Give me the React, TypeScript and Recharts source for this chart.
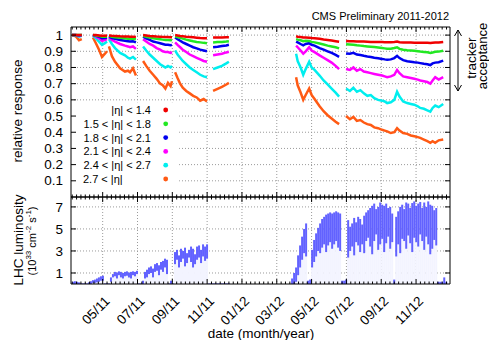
import React from 'react';
import { ComposedChart, Line, Bar, XAxis, YAxis, CartesianGrid, ReferenceArea } from 'recharts';

const FONT = '"Liberation Sans", Arial, Helvetica, sans-serif';

// x axis in months counted from Jan 2011 (4 = May 2011)
const X_DOMAIN: [number, number] = [2.18, 23.95];
const MAJOR_MONTHS = [4, 6, 8, 10, 12, 14, 16, 18, 20, 22];
const TICK_LABELS = ['05/11', '07/11', '09/11', '11/11', '01/12', '03/12', '05/12', '07/12', '09/12', '11/12'];

const RESP_TICKS = [0.1, 0.2, 0.3, 0.4, 0.5, 0.6, 0.7, 0.8, 0.9, 1];
const LUM_TICKS = [1, 3, 5, 7];

const LEGEND_LABELS = ['|η| < 1.4', '1.5 < |η| < 1.8', '1.8 < |η| < 2.1', '2.1 < |η| < 2.4', '2.4 < |η| < 2.7', '2.7 < |η|'];
const SERIES_KEYS = ['eta14', 'eta15', 'eta18', 'eta21', 'eta24', 'eta27'];
const SERIES_COLORS = ['#f00000', '#22e822', '#0000ee', '#ff00ff', '#00eeee', '#ff5a14'];

// sampling dates of the response curves (gap rows hold nulls)
const RESP_MONTHS = [
  2.24, 2.45, 2.64, 2.8, 3.1,
  3.44, 3.61, 3.79, 3.96, 4.13, 4.25, 4.3,
  4.36, 4.53, 4.71, 5.0, 5.28, 5.45, 5.57, 5.74, 5.91, 6.1,
  6.32, 6.5, 6.7, 6.9, 7.1, 7.3, 7.45, 7.6, 7.75, 7.9, 7.98, 8.07,
  8.16, 8.3, 8.45, 8.6, 8.8, 9.0, 9.2, 9.4, 9.6, 9.8, 9.99, 10.15,
  10.34, 10.6, 10.85, 11.1, 11.25, 13,
  15.11, 15.2, 15.37, 15.52, 15.66, 15.86, 16.0, 16.17, 16.46, 16.69, 16.92, 17.15, 17.38, 17.58, 17.8,
  17.98, 18.2, 18.4, 18.6, 18.8, 19.0, 19.2, 19.4, 19.6, 19.82, 20.05, 20.2, 20.34, 20.55, 20.75,
  20.91, 21.05, 21.26, 21.49, 21.7, 21.9, 22.1, 22.24, 22.45, 22.65, 22.82, 22.95, 23.1, 23.3, 23.56,
];

const ETA_14 = [
  1.0, 1.0, 1.0, 1.0, null,
  1.0, 1.0, 0.998, 0.996, 0.996, 0.997, null,
  0.998, 0.996, 0.995, 0.993, 0.992, 0.991, 0.99, 0.99, 0.989, null,
  1.0, 0.998, 0.995, 0.993, 0.991, 0.99, 0.989, 0.988, 0.988, 0.987, 0.987, null,
  1.0, 0.998, 0.995, 0.993, 0.99, 0.988, 0.986, 0.984, 0.982, 0.981, 0.98, null,
  0.985, 0.985, 0.985, 0.986, 0.986, null,
  0.993, 0.99, 0.988, 0.985, 0.985, 0.984, 0.982, 0.98, 0.977, 0.973, 0.97, 0.966, 0.962, 0.959, null,
  0.963, 0.962, 0.962, 0.961, 0.96, 0.96, 0.959, 0.958, 0.958, 0.957, 0.957, 0.956, 0.956, 0.956, 0.958,
  0.96, 0.956, 0.955, 0.954, 0.954, 0.953, 0.953, 0.952, 0.952, 0.952, 0.951, 0.953, 0.954, 0.955, 0.958,
];

const ETA_15 = [
  1.0, 1.0, 1.0, 1.0, null,
  1.0, 0.998, 0.995, 0.99, 0.99, 0.992, null,
  0.995, 0.99, 0.987, 0.983, 0.98, 0.978, 0.977, 0.978, 0.975, null,
  0.995, 0.99, 0.985, 0.98, 0.977, 0.974, 0.972, 0.97, 0.97, 0.968, 0.97, null,
  0.993, 0.988, 0.983, 0.978, 0.972, 0.967, 0.962, 0.958, 0.955, 0.952, 0.95, null,
  0.955, 0.957, 0.958, 0.96, 0.962, null,
  0.975, 0.972, 0.968, 0.962, 0.965, 0.963, 0.958, 0.955, 0.948, 0.942, 0.935, 0.93, 0.925, 0.918, null,
  0.944, 0.942, 0.94, 0.937, 0.935, 0.932, 0.93, 0.928, 0.926, 0.923, 0.92, 0.918, 0.916, 0.916, 0.92,
  0.925, 0.915, 0.91, 0.907, 0.905, 0.903, 0.9, 0.898, 0.896, 0.894, 0.89, 0.893, 0.897, 0.898, 0.903,
];

const ETA_18 = [
  1.0, 1.0, 0.998, 1.0, null,
  1.0, 0.995, 0.99, 0.98, 0.982, 0.985, null,
  0.99, 0.982, 0.977, 0.97, 0.965, 0.962, 0.96, 0.962, 0.955, null,
  0.99, 0.98, 0.97, 0.96, 0.955, 0.95, 0.945, 0.94, 0.94, 0.937, 0.94, null,
  0.985, 0.975, 0.965, 0.955, 0.945, 0.935, 0.925, 0.918, 0.91, 0.905, 0.9, null,
  0.925, 0.928, 0.932, 0.936, 0.94, null,
  0.96, 0.955, 0.945, 0.937, 0.945, 0.95, 0.94, 0.935, 0.92, 0.91, 0.9, 0.89, 0.878, 0.866, null,
  0.887, 0.885, 0.89, 0.88, 0.877, 0.872, 0.868, 0.865, 0.86, 0.857, 0.853, 0.85, 0.848, 0.85, 0.858,
  0.872, 0.858, 0.845, 0.838, 0.835, 0.832, 0.83, 0.827, 0.823, 0.82, 0.815, 0.825, 0.83, 0.832, 0.842,
];

const ETA_21 = [
  1.0, 1.0, 0.995, 0.998, null,
  1.0, 0.99, 0.98, 0.965, 0.97, 0.975, null,
  0.985, 0.97, 0.96, 0.945, 0.935, 0.93, 0.925, 0.93, 0.915, null,
  0.975, 0.96, 0.945, 0.935, 0.92, 0.91, 0.9, 0.895, 0.895, 0.89, 0.895, null,
  0.955, 0.94, 0.925, 0.91, 0.895, 0.88, 0.87, 0.86, 0.85, 0.84, 0.835, null,
  0.875, 0.88, 0.885, 0.893, 0.897, null,
  0.935, 0.925, 0.905, 0.885, 0.9, 0.925, 0.905, 0.895, 0.875, 0.86, 0.845, 0.83, 0.81, 0.79, null,
  0.79, 0.785, 0.8, 0.78, 0.79, 0.775, 0.77, 0.765, 0.76, 0.755, 0.75, 0.745, 0.74, 0.745, 0.755,
  0.785, 0.765, 0.745, 0.74, 0.735, 0.73, 0.725, 0.72, 0.715, 0.71, 0.7, 0.72, 0.74, 0.725, 0.74,
];

const ETA_24 = [
  1.0, 0.998, 0.99, 0.995, null,
  0.995, 0.98, 0.96, 0.94, 0.95, 0.96, null,
  0.975, 0.945, 0.92, 0.89, 0.875, 0.86, 0.855, 0.865, 0.848, null,
  0.93, 0.905, 0.88, 0.86, 0.84, 0.82, 0.81, 0.8, 0.81, 0.8, 0.81, null,
  0.905, 0.88, 0.86, 0.84, 0.82, 0.8, 0.785, 0.77, 0.755, 0.745, 0.74, null,
  0.79, 0.8, 0.81, 0.825, 0.835, null,
  0.885, 0.84, 0.8, 0.755, 0.79, 0.835, 0.8, 0.785, 0.75, 0.72, 0.695, 0.67, 0.645, 0.62, null,
  0.67, 0.655, 0.675, 0.65, 0.66, 0.64, 0.625, 0.63, 0.61, 0.6, 0.595, 0.59, 0.58, 0.585, 0.6,
  0.65, 0.62, 0.59, 0.58, 0.575, 0.57, 0.56, 0.55, 0.545, 0.535, 0.527, 0.55, 0.565, 0.555, 0.575,
];

const ETA_27 = [
  1.0, 0.993, 0.968, 0.975, null,
  0.985, 0.95, 0.91, 0.865, 0.885, 0.9, null,
  0.93, 0.87, 0.835, 0.795, 0.775, 0.78, 0.77, 0.795, 0.75, null,
  0.84, 0.81, 0.78, 0.755, 0.73, 0.7, 0.69, 0.67, 0.705, 0.685, 0.715, null,
  0.77, 0.735, 0.7, 0.675, 0.655, 0.64, 0.625, 0.615, 0.595, 0.605, 0.59, null,
  0.655, 0.668, 0.68, 0.695, 0.705, null,
  0.74, 0.69, 0.645, 0.6, 0.63, 0.67, 0.63, 0.605, 0.56, 0.53, 0.505, 0.485, 0.465, 0.45, null,
  0.5, 0.48, 0.495, 0.47, 0.475, 0.46, 0.45, 0.445, 0.43, 0.425, 0.415, 0.41, 0.405, 0.395, 0.4,
  0.425, 0.41, 0.395, 0.39, 0.38, 0.375, 0.37, 0.365, 0.355, 0.345, 0.335, 0.345, 0.335, 0.35, 0.355,
];

// luminosity, one sample every LUM_STEP months from the period start
const LUM_STEP = 0.115;
const LUM_START_2011 = 2.29;
const LUM_HIGH_2011 = [
  0.2, 0.25, 0.2, 0.15, 0.05, 0.05, 0.05, 0.05,
  0.15, 0.25, 0.35, 0.4, 0.5, 0.6, 0.7, 0.75, 0.05, 0.05, 0.05, 0.6,
  0.9, 1.1, 1.05, 1.15, 1.1, 1.0, 1.1, 1.15, 1.05, 1.1, 1.15, 1.1, 1.2,
  0.05, 0.05, 0.3,
  1.1, 1.3, 1.5, 1.6, 1.4, 1.8, 1.9, 1.7, 2.0, 2.1, 2.3, 2.2,
  0.05, 0.3, 0.05,
  2.9, 3.1, 2.6, 3.2, 3.0, 3.3, 2.8, 3.1, 3.4, 3.2, 2.7, 3.4, 3.5, 3.1, 3.6, 3.4, 3.6,
  0.05, 0.05, 0.05, 0.05, 0.05, 0.05, 0.05, 0.05, 0.05, 0.05, 0.05,
];
const LUM_LOW_2011 = [
  0, 0, 0, 0, 0, 0, 0, 0,
  0, 0, 0.1, 0.1, 0.15, 0.2, 0.3, 0.3, 0, 0, 0, 0.2,
  0.6, 0.7, 0.5, 0.8, 0.6, 0.5, 0.7, 0.75, 0.6, 0.5, 0.8, 0.7, 0.9,
  0, 0, 0,
  0.5, 0.6, 0.9, 1.0, 0.6, 1.1, 1.2, 0.8, 1.3, 1.1, 1.5, 0.9,
  0, 0, 0,
  1.8, 2.2, 1.5, 2.0, 2.3, 1.6, 1.9, 2.4, 2.0, 1.5, 1.8, 2.2, 2.4, 1.9, 2.5, 2.1, 2.3,
  0, 0, 0, 0, 0, 0, 0, 0, 0, 0, 0,
];
const LUM_START_2012 = 14.88;
const LUM_HIGH_2012 = [
  0.5, 1.0,
  1.5, 2.6, 3.5, 4.3, 5.0, 5.5,
  0.3, 0.4,
  3.1, 4.0, 4.6, 5.1, 5.5, 5.9, 6.1, 6.3, 6.4, 6.5, 6.4, 6.5, 6.6, 6.5, 6.4,
  0.3, 0.3, 0.4,
  5.8, 5.2, 5.5, 6.0, 5.6, 6.1, 5.9, 5.4, 6.2, 6.5, 6.7, 6.9, 7.1, 7.3, 6.8, 7.0, 7.4, 7.2, 7.1, 7.3, 6.9, 7.0, 6.4,
  0.4, 6.1,
  6.6, 7.0, 7.2, 6.8, 7.4, 7.3, 6.9, 7.35, 7.5, 7.1, 7.3, 7.45, 6.9, 7.4, 7.0, 7.5, 7.2, 7.1, 6.7, 6.9,
  0.2, 0.2, 0.2, 0.6, 0.2,
];
const LUM_LOW_2012 = [
  0, 0,
  0.2, 0.8, 1.5, 2.2, 2.8, 2.5,
  0, 0,
  1.5, 2.0, 2.5, 3.0, 2.8, 3.3, 3.6, 2.9, 3.5, 3.8, 3.2, 3.6, 3.9, 3.3, 3.0,
  0, 0, 0,
  2.4, 3.0, 3.4, 2.6, 3.8, 3.5, 2.9, 3.6, 2.8, 3.9, 4.2, 3.4, 2.7, 3.9, 4.5, 3.1, 3.6, 4.1, 2.9, 3.7, 4.3, 3.2, 3.8,
  0, 2.5,
  3.6, 2.8, 4.1, 3.9, 3.2, 4.4, 3.7, 2.9, 4.2, 3.8, 3.4, 4.5, 3.9, 3.1, 4.3, 3.6, 2.7, 3.2, 4.0, 3.5,
  0, 0, 0, 0, 0,
];

const respRows = RESP_MONTHS.map((m, i) => ({
  m,
  eta14: ETA_14[i],
  eta15: ETA_15[i],
  eta18: ETA_18[i],
  eta21: ETA_21[i],
  eta24: ETA_24[i],
  eta27: ETA_27[i],
}));

const lumRows = [
  ...LUM_HIGH_2011.map((h, i) => ({ m: LUM_START_2011 + i * LUM_STEP, lo: LUM_LOW_2011[i], span: h - LUM_LOW_2011[i] })),
  ...LUM_HIGH_2012.map((h, i) => ({ m: LUM_START_2012 + i * LUM_STEP, lo: LUM_LOW_2012[i], span: h - LUM_LOW_2012[i] })),
];

// weekly-ish minor ticks plus the labelled months
const X_TICKS: number[] = [];
for (let k = 9; k <= 95; k++) X_TICKS.push(k / 4);

const XTick = ({ x, y, payload, side, labels }: any) => {
  const major = MAJOR_MONTHS.includes(payload.value);
  const len = major ? 5 : 2.5;
  const y2 = side === 'bottom' ? y - len : y + len;
  const idx = MAJOR_MONTHS.indexOf(payload.value);
  return (
    <g>
      <line x1={x} x2={x} y1={y} y2={y2} stroke="#000" strokeWidth={1} />
      {labels && major && (
        <text
          x={x + 8}
          y={y + 18}
          transform={`rotate(-45 ${x + 8} ${y + 18})`}
          textAnchor="end"
          fontSize={13.5}
          fontFamily={FONT}
          fill="#000"
        >
          {TICK_LABELS[idx]}
        </text>
      )}
    </g>
  );
};

const YTick = ({ x, y, payload, side }: any) => {
  const x2 = side === 'left' ? x + 5 : x - 5;
  return (
    <g>
      <line x1={x} x2={x2} y1={y} y2={y} stroke="#000" strokeWidth={1} />
      {side === 'left' && (
        <text x={x - 8} y={y} dy={4.6} textAnchor="end" fontSize={13.5} fontFamily={FONT} fill="#000">
          {payload.value}
        </text>
      )}
    </g>
  );
};

const axisLine = { stroke: '#000', strokeWidth: 1 };

const App: React.FC = () => {
  return (
    <div style={{ position: 'absolute', left: 0, top: 0, width: 489, height: 340, background: '#fff', fontFamily: FONT }}>
      {/* response panel */}
      <div style={{ position: 'absolute', left: 0, top: 0 }}>
        <ComposedChart width={489} height={200} data={respRows} margin={{ top: 26, right: 38, bottom: 2, left: 70 }}>
          <CartesianGrid stroke="#9a9a9a" strokeDasharray="1 2" verticalValues={MAJOR_MONTHS} horizontalValues={RESP_TICKS} />
          <ReferenceArea x1={X_DOMAIN[0]} x2={8.39} y1={0} y2={0.585} fill="#fff" fillOpacity={1} stroke="none" />
          <XAxis dataKey="m" type="number" domain={X_DOMAIN} allowDataOverflow ticks={X_TICKS} interval={0}
            height={1} tickSize={0} tickMargin={0} tickLine={false} axisLine={axisLine}
            tick={(p: any) => <XTick {...p} side="bottom" />} />
          <XAxis xAxisId="top" orientation="top" dataKey="m" type="number" domain={X_DOMAIN} allowDataOverflow ticks={X_TICKS} interval={0}
            height={1} tickSize={0} tickMargin={0} tickLine={false} axisLine={axisLine}
            tick={(p: any) => <XTick {...p} side="top" />} />
          <YAxis type="number" domain={[0, 1.05]} allowDataOverflow ticks={RESP_TICKS} interval={0}
            width={1} tickSize={0} tickMargin={0} tickLine={false} axisLine={axisLine}
            tick={(p: any) => <YTick {...p} side="left" />} />
          <YAxis yAxisId="right" orientation="right" type="number" domain={[0, 1.05]} allowDataOverflow ticks={RESP_TICKS} interval={0}
            width={1} tickSize={0} tickMargin={0} tickLine={false} axisLine={axisLine}
            tick={(p: any) => <YTick {...p} side="right" />} />
          {[5, 4, 3, 2, 1, 0].map(i => (
            <Line
              key={SERIES_KEYS[i]}
              dataKey={SERIES_KEYS[i]}
              stroke={SERIES_COLORS[i]}
              strokeWidth={2.5}
              dot={false}
              activeDot={false}
              type="linear"
              isAnimationActive={false}
            />
          ))}
        </ComposedChart>
      </div>

      {/* luminosity panel */}
      <div style={{ position: 'absolute', left: 0, top: 190 }}>
        <ComposedChart width={489} height={150} data={lumRows} margin={{ top: 6, right: 38, bottom: 55, left: 70 }}>
          <CartesianGrid stroke="#9a9a9a" strokeDasharray="1 2" verticalValues={MAJOR_MONTHS} horizontalValues={LUM_TICKS} />
          <XAxis dataKey="m" type="number" domain={X_DOMAIN} allowDataOverflow ticks={X_TICKS} interval={0}
            height={1} tickSize={0} tickMargin={0} tickLine={false} axisLine={axisLine}
            tick={(p: any) => <XTick {...p} side="bottom" labels />} />
          <XAxis xAxisId="top" orientation="top" dataKey="m" type="number" domain={X_DOMAIN} allowDataOverflow ticks={X_TICKS} interval={0}
            height={1} tickSize={0} tickMargin={0} tickLine={false} axisLine={axisLine}
            tick={(p: any) => <XTick {...p} side="top" />} />
          <YAxis type="number" domain={[0, 7.9]} allowDataOverflow ticks={LUM_TICKS} interval={0}
            width={1} tickSize={0} tickMargin={0} tickLine={false} axisLine={axisLine}
            tick={(p: any) => <YTick {...p} side="left" />} />
          <YAxis yAxisId="right" orientation="right" type="number" domain={[0, 7.9]} allowDataOverflow ticks={LUM_TICKS} interval={0}
            width={1} tickSize={0} tickMargin={0} tickLine={false} axisLine={axisLine}
            tick={(p: any) => <YTick {...p} side="right" />} />
          <Bar dataKey="lo" stackId="lum" fill="#f3f4ff" barSize={2} isAnimationActive={false} />
          <Bar dataKey="span" stackId="lum" fill="#6262ff" barSize={2} isAnimationActive={false} />
        </ComposedChart>
      </div>

      {/* texts and annotations */}
      <svg width={489} height={340} style={{ position: 'absolute', left: 0, top: 0, pointerEvents: 'none' }} fontFamily={FONT}>
        <text x={449} y={20} textAnchor="end" fontSize={11}>CMS Preliminary 2011-2012</text>
        <text x={17.5} y={111} transform="rotate(-90 17.5 111)" textAnchor="middle" dominantBaseline="central" fontSize={13.5}>
          relative response
        </text>
        {LEGEND_LABELS.map((label, i) => {
          const cy = 110 + i * 13.8;
          const last = i === LEGEND_LABELS.length - 1;
          return (
            <g key={label}>
              <text x={last ? 83 : 151} y={cy + 4} textAnchor={last ? 'start' : 'end'} fontSize={11}>{label}</text>
              <circle cx={165.7} cy={cy} r={2.4} fill={SERIES_COLORS[i]} />
            </g>
          );
        })}
        <path d="M458 30 L458 91 M454.5 36 L458 30 L461.5 36 M454.5 85 L458 91 L461.5 85" stroke="#000" strokeWidth={1} fill="none" />
        <text x={471.5} y={58} transform="rotate(-90 471.5 58)" textAnchor="middle" dominantBaseline="central" fontSize={13.5}>tracker</text>
        <text x={482.5} y={56} transform="rotate(-90 482.5 56)" textAnchor="middle" dominantBaseline="central" fontSize={13}>acceptance</text>
        <text x={18.5} y={240} transform="rotate(-90 18.5 240)" textAnchor="middle" dominantBaseline="central" fontSize={13.5}>
          LHC luminosity
        </text>
        <text x={32} y={241} transform="rotate(-90 32 241)" textAnchor="middle" dominantBaseline="central" fontSize={11}>
          (10<tspan dy={-4} fontSize={8}>33</tspan>
          <tspan dy={4}> cm</tspan>
          <tspan dy={-4} fontSize={8}>-2</tspan>
          <tspan dy={4}> s</tspan>
          <tspan dy={-4} fontSize={8}>-1</tspan>
          <tspan dy={4}>)</tspan>
        </text>
        <text x={261} y={333} textAnchor="middle" dominantBaseline="central" fontSize={13.5}>date (month/year)</text>
      </svg>
    </div>
  );
};

export default App;
